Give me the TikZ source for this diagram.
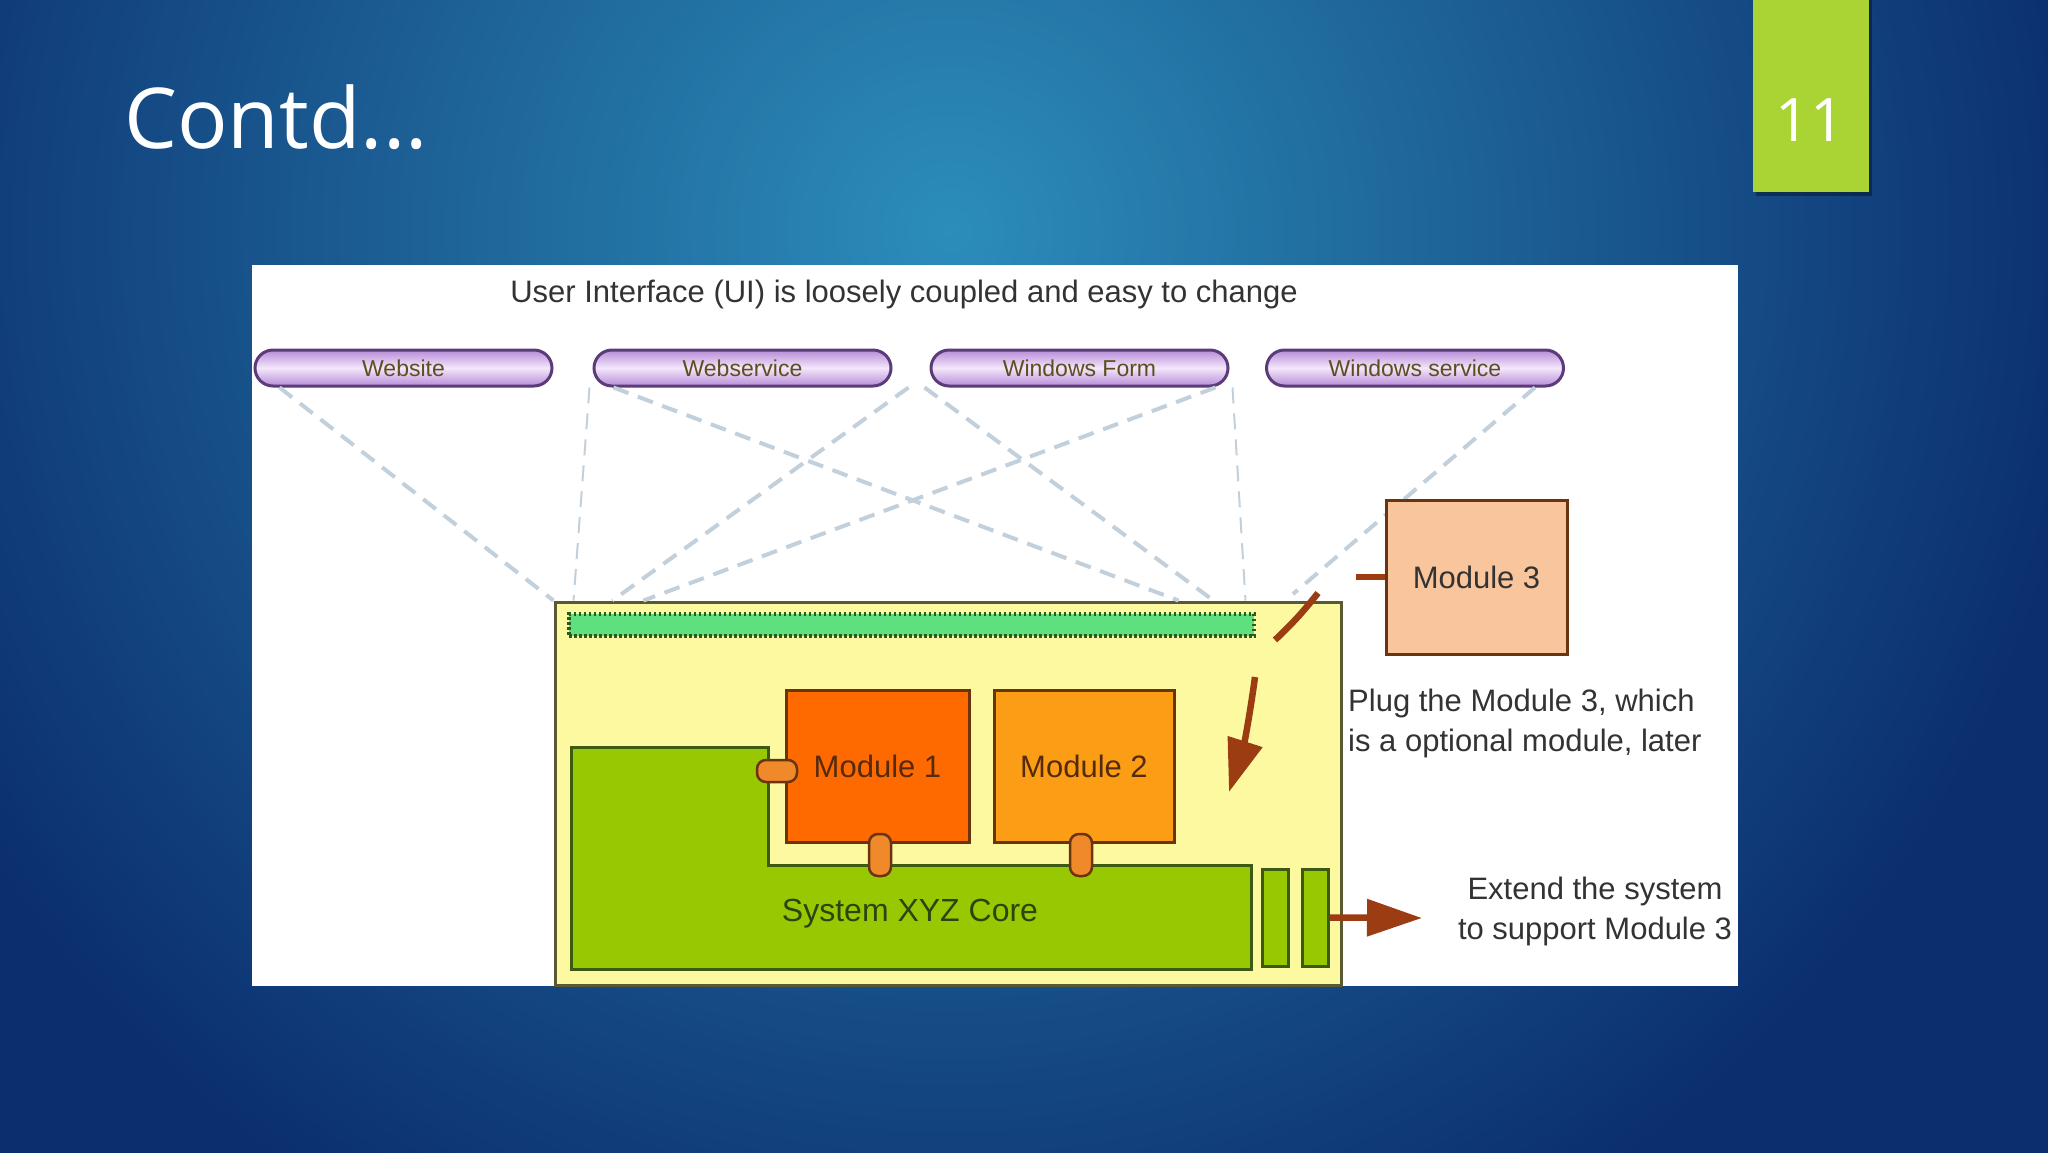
\documentclass[tikz,border=0pt]{standalone}
\usepackage{fontspec}
\setmainfont{Liberation Sans}
\newfontfamily\slidefont{Open Sans}
\usetikzlibrary{arrows.meta,calc}
\definecolor{bgnavy}{HTML}{0B2E6E}
\definecolor{bglight}{HTML}{2C8DBA}
\definecolor{tabgreen}{HTML}{AAD434}
\definecolor{pilllight}{HTML}{F4E6FB}
\definecolor{pilldark}{HTML}{B68CD8}
\definecolor{pillborder}{HTML}{5B3C78}
\definecolor{pilltext}{HTML}{5E4E1E}
\definecolor{yellowfill}{HTML}{FCF9A0}
\definecolor{yellowborder}{HTML}{595A33}
\definecolor{corefill}{HTML}{98C802}
\definecolor{coreborder}{HTML}{3D5A12}
\definecolor{coretext}{HTML}{2B4510}
\definecolor{hatchfill}{HTML}{5FE07E}
\definecolor{hatchborder}{HTML}{2A5A22}
\definecolor{mone}{HTML}{FE6A00}
\definecolor{mtwo}{HTML}{FC9D16}
\definecolor{mthree}{HTML}{F8C59C}
\definecolor{modborder}{HTML}{6B3410}
\definecolor{plugcol}{HTML}{F0892A}
\definecolor{arrowcol}{HTML}{9C3C12}
\definecolor{dashcol}{HTML}{C2D0DC}
\definecolor{textgray}{HTML}{333333}
\begin{document}
\begin{tikzpicture}[x=1pt,y=-1pt,
  pill/.style={draw=pillborder,line width=3pt,rounded corners=18pt,minimum width=297pt,minimum height=36pt,inner sep=0pt,top color=pilldark,bottom color=pilldark,middle color=pilllight,font=\fontsize{23}{26}\selectfont,text=pilltext},
  modbox/.style={draw=modborder,line width=3pt,inner sep=0pt,font=\fontsize{31}{36}\selectfont},
  plugh/.style={draw=modborder,fill=plugcol,line width=2.5pt,rounded corners=9pt,minimum width=40pt,minimum height=22pt,inner sep=0pt},
  plugv/.style={draw=modborder,fill=plugcol,line width=2.5pt,rounded corners=9pt,minimum width=22pt,minimum height=42pt,inner sep=0pt},
  uiline/.style={draw=dashcol,line width=4pt,dash pattern=on 16pt off 10pt},
  brownline/.style={draw=arrowcol,line width=6.5pt},
  corebox/.style={draw=coreborder,fill=corefill,line width=3pt,inner sep=0pt},
  lbl/.style={font=\fontsize{31}{40}\selectfont,text=textgray,inner sep=0pt}
]
\useasboundingbox (0,0) rectangle (2048,1152);
% background
\fill[bgnavy] (-20,-20) rectangle (2068,1172);
\begin{scope}
  \clip (-20,-20) rectangle (2068,1172);
  \shade[inner color=bglight, outer color=bgnavy] (950,230) circle (1150);
\end{scope}
% title and page tab
\node[anchor=base west,font=\slidefont\fontsize{84}{90}\selectfont,text=white,inner sep=0pt] (title) at (124,148) {Contd...};
\fill[black,opacity=0.35] (1756,-5) rectangle (1872,196);
\fill[tabgreen] (1753,-5) rectangle (1869,192);
\node[font=\slidefont\fontsize{60}{64}\selectfont,text=white] (pagenum) at (1810,120) {11};
% white panel
\node[fill=white,minimum width=1486pt,minimum height=721pt,inner sep=0pt] (panel) at (995,625.5) {};
\node[lbl,anchor=base] (uititle) at (904,302) {User Interface (UI) is loosely coupled and easy to change};
% pills
\node[pill] (website) at (403.5,368) {Website};
\node[pill] (webservice) at (742.5,368) {Webservice};
\node[pill] (winform) at (1079.5,368) {Windows Form};
\node[pill] (winservice) at (1415,368) {Windows service};
% system box
\node[draw=yellowborder,fill=yellowfill,line width=3pt,minimum width=786pt,minimum height=383pt,inner sep=0pt] (sys) at (948,793.5) {};
% dashed UI links
\coordinate (hEnd) at (1293,594);
\draw[uiline] ([xshift=26pt]website.south west) -- ([xshift=0pt]sys.north west);
\draw[uiline,line width=2pt] ([xshift=-3pt]webservice.south west) -- ([xshift=20pt]sys.north west);
\draw[uiline] ([xshift=21pt]webservice.south west) -- ([xshift=625pt]sys.north west);
\draw[uiline] ([xshift=-21pt]winform.south west) -- ([xshift=59pt]sys.north west);
\draw[uiline] ([xshift=-5pt]winform.south west) -- ([xshift=660pt]sys.north west);
\draw[uiline] ([xshift=-14pt]winform.south east) -- ([xshift=90pt]sys.north west);
\draw[uiline,line width=2pt] ([xshift=3pt]winform.south east) -- ([xshift=692pt]sys.north west);
\draw[uiline] ([xshift=-30pt]winservice.south east) -- (hEnd);
% bus bar
\node[fill=hatchfill,draw=hatchborder,line width=3.5pt,dash pattern=on 2.5pt off 2.5pt,minimum width=685pt,minimum height=22pt,inner sep=0pt] (bus) at (911.5,625) {};
% core
\draw[corebox] (571,747) -- (768,747) -- (768,865) -- (1251,865) -- (1251,969) -- (571,969) -- cycle;
\node[font=\fontsize{32}{36}\selectfont,text=coretext] (coretxt) at (910,914) {System XYZ Core};
\node[corebox,minimum width=26pt,minimum height=97pt] (ext1) at (1275,917.5) {};
\node[corebox,minimum width=26pt,minimum height=97pt] (ext2) at (1315,917.5) {};
% modules
\node[modbox,fill=mone,text=modborder!80!black,minimum width=183pt,minimum height=152pt] (m1) at (877.5,766) {Module 1};
\node[modbox,fill=mtwo,text=modborder!80!black,minimum width=180pt,minimum height=152pt] (m2) at (1084,766) {Module 2};
\node[modbox,fill=mthree,text=textgray,minimum width=181pt,minimum height=154pt] (m3) at (1476.5,577) {Module 3};
% plugs
\node[plugh] (p1) at (777,771) {};
\node[plugv] (p2) at (880,855) {};
\node[plugv] (p3) at (1081,855) {};
% arrows
\coordinate (m3stub) at (1356,577);
\draw[brownline] (m3.west) -- (m3stub);
\coordinate (c1) at (1318,593);
\coordinate (c2) at (1275,640);
\draw[brownline] (c1) to[bend left=4] (c2);
\coordinate (c3) at (1255,677);
\coordinate (c4) at (1229,792);
\draw[brownline,-{Triangle[length=53pt,width=35pt]}] (c3) to[bend left=5] (c4);
\coordinate (extTip) at (1422,918);
\draw[brownline,-{Triangle[length=55pt,width=36pt]}] (ext2.east) -- (extTip);
% labels
\node[lbl,align=left,anchor=west] (plugtxt) at (1348,723) {Plug the Module 3, which\\is a optional module, later};
\node[lbl,align=center] (exttxt) at (1595,911) {Extend the system\\to support Module 3};
\end{tikzpicture}
\end{document}
